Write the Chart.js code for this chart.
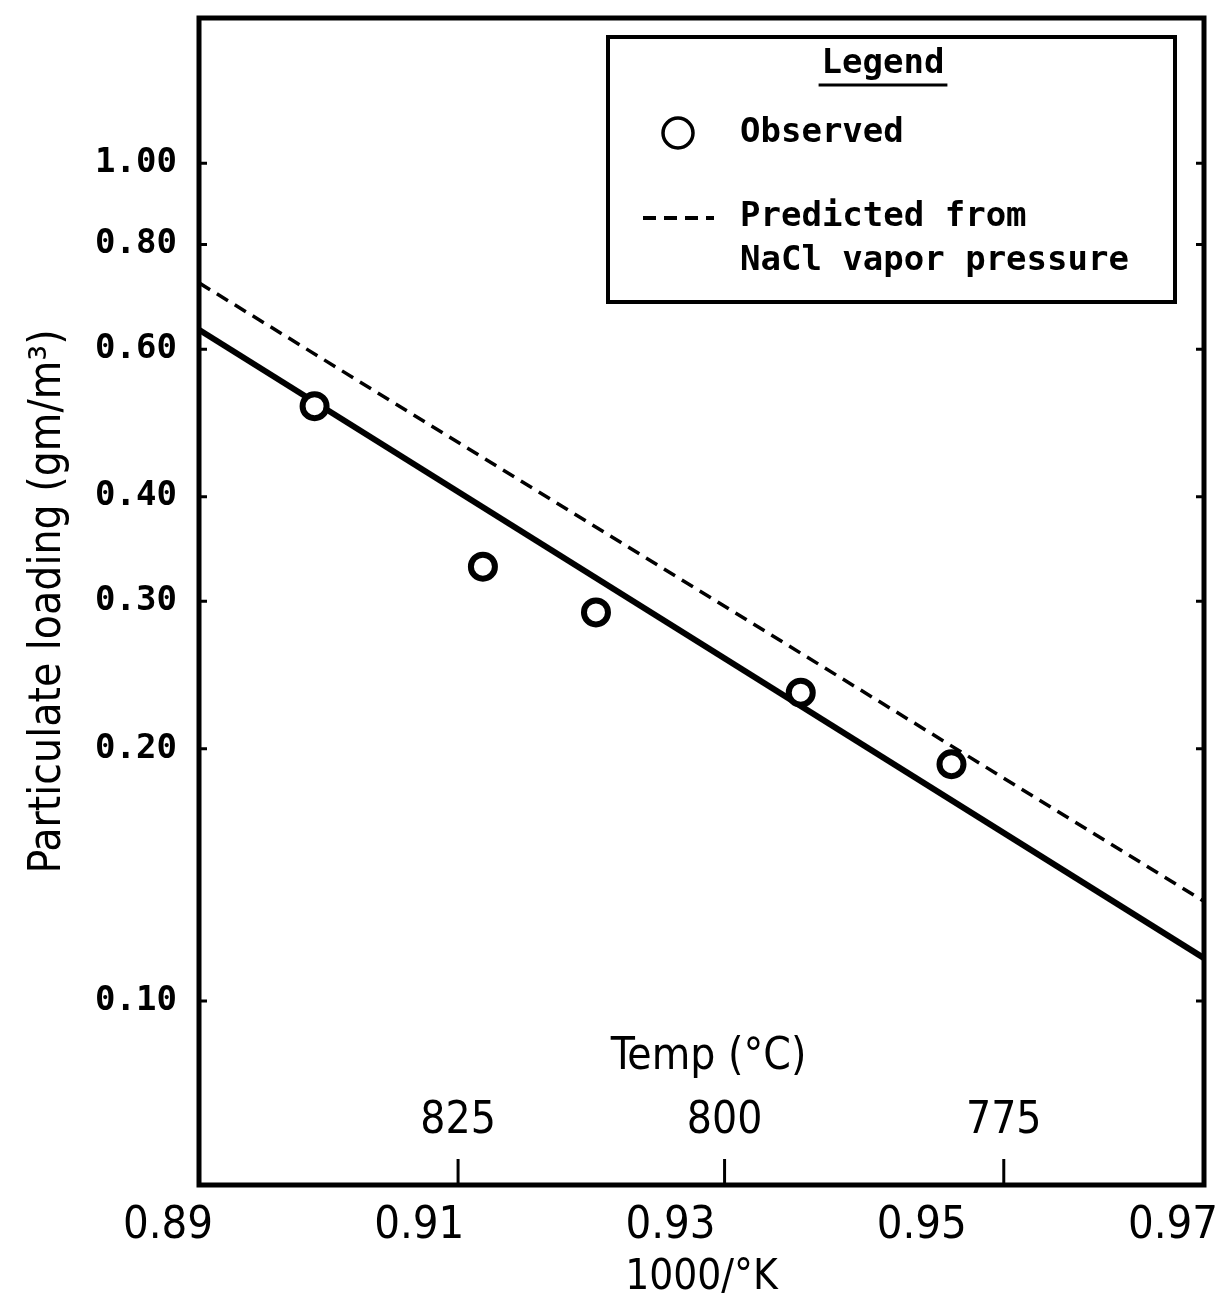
<!DOCTYPE html>
<html>
<head>
<meta charset="utf-8">
<script src="https://cdn.jsdelivr.net/npm/chart.js@4.4.0/dist/chart.umd.min.js"></script>
<style>
  body { margin: 0; background: #fff; }
  #wrap { width: 1231px; height: 1303px; }
</style>
</head>
<body>
<div id="wrap"><canvas id="myChart"></canvas></div>
<script>
// observed particulate loading vs 1000/K
const obsX = [0.8992, 0.9126, 0.9216, 0.9379, 0.9499];
const obsY = [0.513, 0.330, 0.291, 0.2334, 0.1917];

// fitted line (solid) and predicted from NaCl vapor pressure (dashed)
const lineX = [0.89, 0.97];
const fitY = [0.633, 0.1125];
const predY = [0.720, 0.1315];

// axis ticks
const xTicks = [0.89, 0.91, 0.93, 0.95, 0.97];
const yTicks = [0.10, 0.20, 0.30, 0.40, 0.60, 0.80, 1.00];
const tempTicks = [825, 800, 775];

const legendTitle = 'Legend';
const observedLabel = 'Observed';
const predictedLabel = ['Predicted from', 'NaCl vapor pressure'];

const monoFont = "'DejaVu Sans Mono', monospace";
const narrowFont = "'Liberation Sans Narrow', 'DejaVu Sans Condensed', 'Liberation Sans', sans-serif";

const toPoints = (xs, ys) => xs.map((x, i) => ({ x: x, y: ys[i] }));

// frame, inner ticks, temperature scale and legend box
const extras = {
  id: 'extras',
  afterDatasetsDraw(chart) {
    const ctx = chart.ctx;
    const a = chart.chartArea;
    const xs = chart.scales.x;
    const ys = chart.scales.y;
    ctx.save();
    ctx.strokeStyle = '#000';
    ctx.fillStyle = '#000';

    // frame
    ctx.lineWidth = 5;
    ctx.strokeRect(a.left, a.top, a.right - a.left, a.bottom - a.top);

    // small inner ticks on left and right
    ctx.lineWidth = 3;
    yTicks.forEach(v => {
      const py = ys.getPixelForValue(v);
      ctx.beginPath();
      ctx.moveTo(a.left, py); ctx.lineTo(a.left + 8, py);
      ctx.moveTo(a.right, py); ctx.lineTo(a.right - 8, py);
      ctx.stroke();
    });

    // temperature scale
    ctx.font = '44px ' + narrowFont;
    ctx.textAlign = 'center';
    ctx.textBaseline = 'middle';
    tempTicks.forEach(t => {
      const px = xs.getPixelForValue(1000 / (t + 273.15));
      ctx.beginPath();
      ctx.moveTo(px, a.bottom); ctx.lineTo(px, a.bottom - 26);
      ctx.stroke();
      ctx.fillText(String(t), px, 1122);
    });
    ctx.fillText('Temp (\u00B0C)', (a.left + a.right) / 2 + 7, 1058);

    // legend
    const bx = 608, by = 37, bw = 567, bh = 265;
    ctx.fillStyle = '#fff';
    ctx.fillRect(bx, by, bw, bh);
    ctx.fillStyle = '#000';
    ctx.lineWidth = 4;
    ctx.strokeRect(bx, by, bw, bh);

    ctx.font = 'bold 34px ' + monoFont;
    ctx.textAlign = 'center';
    ctx.fillText(legendTitle, 883, 64);
    const tw = ctx.measureText(legendTitle).width;
    ctx.lineWidth = 3;
    ctx.beginPath();
    ctx.moveTo(883 - tw / 2 - 3, 85); ctx.lineTo(883 + tw / 2 + 3, 85);
    ctx.stroke();

    ctx.lineWidth = 3.5;
    ctx.beginPath();
    ctx.arc(678, 133, 15, 0, Math.PI * 2);
    ctx.stroke();

    ctx.lineWidth = 4;
    ctx.setLineDash([13, 8]);
    ctx.beginPath();
    ctx.moveTo(643, 218); ctx.lineTo(714, 218);
    ctx.stroke();
    ctx.setLineDash([]);

    ctx.textAlign = 'left';
    ctx.fillText(observedLabel, 740, 133);
    ctx.fillText(predictedLabel[0], 740, 217);
    ctx.fillText(predictedLabel[1], 740, 261);

    ctx.restore();
  }
};

const ctx = document.getElementById('myChart');

const data = {
  datasets: [
    {
      label: observedLabel,
      data: toPoints(obsX, obsY),
      showLine: false,
      pointRadius: 12,
      pointBorderWidth: 6,
      pointBorderColor: '#000',
      pointBackgroundColor: '#fff'
    },
    {
      label: 'Fit',
      data: toPoints(lineX, fitY),
      showLine: true,
      borderColor: '#000',
      borderWidth: 6,
      pointRadius: 0
    },
    {
      label: predictedLabel.join(' '),
      data: toPoints(lineX, predY),
      showLine: true,
      borderColor: '#000',
      borderWidth: 3.5,
      borderDash: [13, 8],
      pointRadius: 0
    }
  ]
};

const config = {
  type: 'scatter',
  data: data,
  options: {
    responsive: true,
    maintainAspectRatio: false,
    animation: false,
    layout: { padding: { top: 7, right: 27, left: 0, bottom: 0 } },
    plugins: {
      legend: { display: false },
      tooltip: { enabled: false }
    },
    scales: {
      x: {
        type: 'linear',
        min: 0.89,
        max: 0.97,
        afterBuildTicks: (scale) => { scale.ticks = xTicks.map(v => ({ value: v })); },
        afterFit: (scale) => { scale.height = 118; },
        grid: { display: false, drawTicks: false },
        border: { display: false },
        ticks: {
          color: '#000',
          font: { family: narrowFont, size: 45 },
          padding: 14,
          align: 'end',
          labelOffset: 14,
          maxRotation: 0,
          callback: (v) => v.toFixed(2)
        },
        title: {
          display: true,
          text: '1000/\u00B0K',
          color: '#000',
          font: { family: narrowFont, size: 42 },
          padding: { top: 0, bottom: 0 }
        }
      },
      y: {
        type: 'logarithmic',
        min: 0.0603,
        max: 1.491,
        afterBuildTicks: (scale) => { scale.ticks = yTicks.map(v => ({ value: v })); },
        afterFit: (scale) => {
          scale.width = 199;
          scale.paddingTop = 0;
          scale.paddingBottom = 0;
        },
        grid: { display: false, drawTicks: false },
        border: { display: false },
        ticks: {
          color: '#000',
          font: { family: monoFont, size: 34, weight: 'bold' },
          padding: 22,
          callback: (v) => Number(v).toFixed(2)
        },
        title: {
          display: true,
          text: 'Particulate loading (gm/m\u00B3)',
          color: '#000',
          font: { family: narrowFont, size: 44 },
          padding: { top: 22, bottom: 0 }
        }
      }
    }
  },
  plugins: [extras]
};

const myChart = new Chart(ctx, config);
</script>
</body>
</html>
